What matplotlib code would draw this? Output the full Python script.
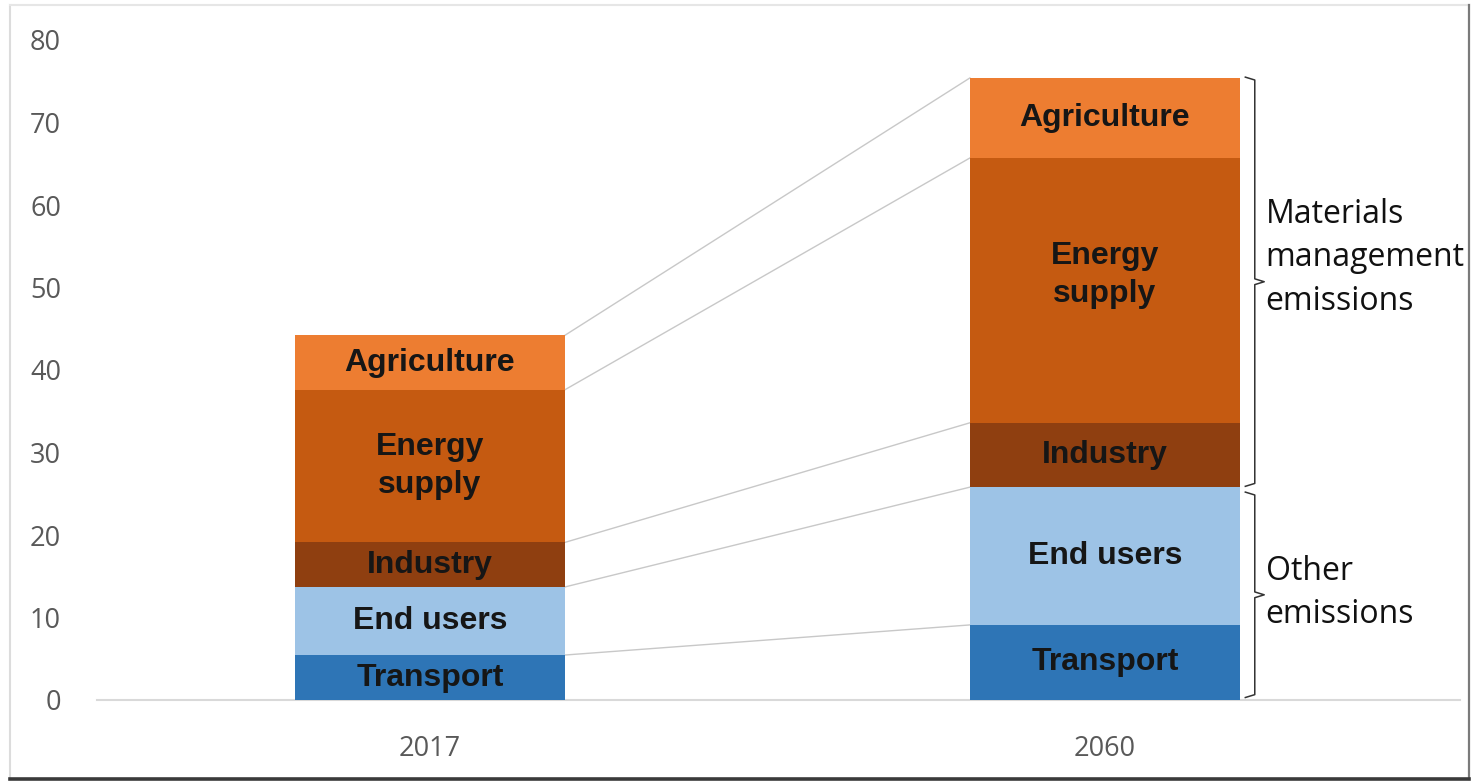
import matplotlib
matplotlib.use("Agg")
import matplotlib.pyplot as plt
from matplotlib.lines import Line2D
import numpy as np

# Emissions by source (stacked bottom to top)
years = ["2017", "2060"]
sectors = ["Transport", "End users", "Industry", "Energy\nsupply", "Agriculture"]
transport = [5.45, 9.1]
end_users = [8.25, 16.7]
industry = [5.4, 7.8]
energy_supply = [18.5, 32.1]
agriculture = [6.6, 9.7]
yticks = [0, 10, 20, 30, 40, 50, 60, 70, 80]

series = [transport, end_users, industry, energy_supply, agriculture]
colors = ["#2e75b6", "#9dc3e6", "#8f3f10", "#c55a11", "#ed7d31"]

W, H = 1472, 783
fig = plt.figure(figsize=(W / 100, H / 100), dpi=100)
fig.patch.set_facecolor("white")

# Panel frame with a soft shadow on the right and bottom
fig.add_artist(Line2D([10 / W, 10 / W], [1 - 5 / H, 1 - 779 / H], color="#dcdcdc", lw=1.5))
fig.add_artist(Line2D([10 / W, 1469 / W], [1 - 5 / H, 1 - 5 / H], color="#e6e6e6", lw=1.5))
fig.add_artist(Line2D([1469 / W, 1469 / W], [1 - 5 / H, 1 - 779 / H], color="#7a7a7a", lw=1.6))
fig.add_artist(Line2D([10 / W, 1469 / W], [1 - 779 / H, 1 - 779 / H], color="#3a3a3a", lw=2.6))

ax = fig.add_axes([97 / W, 1 - 700 / H, (1460 - 97) / W, (700 - 40) / H])
x = np.arange(len(years))
bar_w = 0.4

bottoms = np.zeros(len(years))
tops = []
for vals, col in zip(series, colors):
    vals = np.array(vals)
    ax.bar(x, vals, bar_w, bottom=bottoms, color=col, edgecolor="none", zorder=3)
    bottoms = bottoms + vals
    tops.append(bottoms.copy())

# Segment labels
label_shift = {(3, 1): 1.9}
bottoms = np.zeros(len(years))
for si, (vals, name) in enumerate(zip(series, sectors)):
    vals = np.array(vals)
    for xi in range(len(years)):
        yc = bottoms[xi] + vals[xi] / 2 + label_shift.get((si, xi), 0)
        ax.text(x[xi], yc, name, ha="center", va="center", fontsize=23,
                fontweight="bold", family="Liberation Sans", color="#161616",
                linespacing=1.35, zorder=5)
    bottoms = bottoms + vals

# Connector lines between the two stacks
for t in tops:
    ax.plot([x[0] + bar_w / 2, x[1] - bar_w / 2], [t[0], t[1]],
            color="#c8c8c8", lw=1.0, zorder=2)


def brace(ax, xa, xb, xt, y_top, y_bot):
    ym = (y_top + y_bot) / 2
    d = 0.35
    xs = [xa, xb, xb, xt, xb, xb, xa]
    ys = [y_top, y_top - d, ym + d, ym, ym - d, y_bot + d, y_bot]
    ax.plot(xs, ys, color="#333333", lw=1.1, clip_on=False, zorder=4)


top2060 = tops[-1][1]
split2060 = tops[1][1]
brace(ax, 1.208, 1.222, 1.236, top2060 + 0.1, split2060 + 0.1)
brace(ax, 1.208, 1.222, 1.236, split2060 - 0.6, 0.3)

ax.text(1.238, 53.6, "Materials\nmanagement\nemissions", ha="left", va="center",
        fontsize=23, family="Open Sans", color="#111111", linespacing=1.42)
ax.text(1.238, 13.0, "Other\nemissions", ha="left", va="center",
        fontsize=23, family="Open Sans", color="#111111", linespacing=1.42)

ax.set_xlim(-0.493, 1.526)
ax.set_ylim(0, 80)
ax.set_yticks(yticks)
ax.set_yticklabels([str(v) for v in yticks])
ax.set_xticks(x)
ax.set_xticklabels(years)
for lab in ax.get_yticklabels() + ax.get_xticklabels():
    lab.set_family("Open Sans")
    lab.set_fontsize(19.5)
    lab.set_color("#595959")
ax.tick_params(axis="y", length=0, pad=26)
ax.tick_params(axis="x", length=0, pad=25)
for s in ["top", "right", "left"]:
    ax.spines[s].set_visible(False)
ax.spines["bottom"].set_color("#d9d9d9")
ax.spines["bottom"].set_linewidth(1.5)
ax.set_facecolor("white")

fig.savefig("out.png", dpi=100, facecolor="white")
